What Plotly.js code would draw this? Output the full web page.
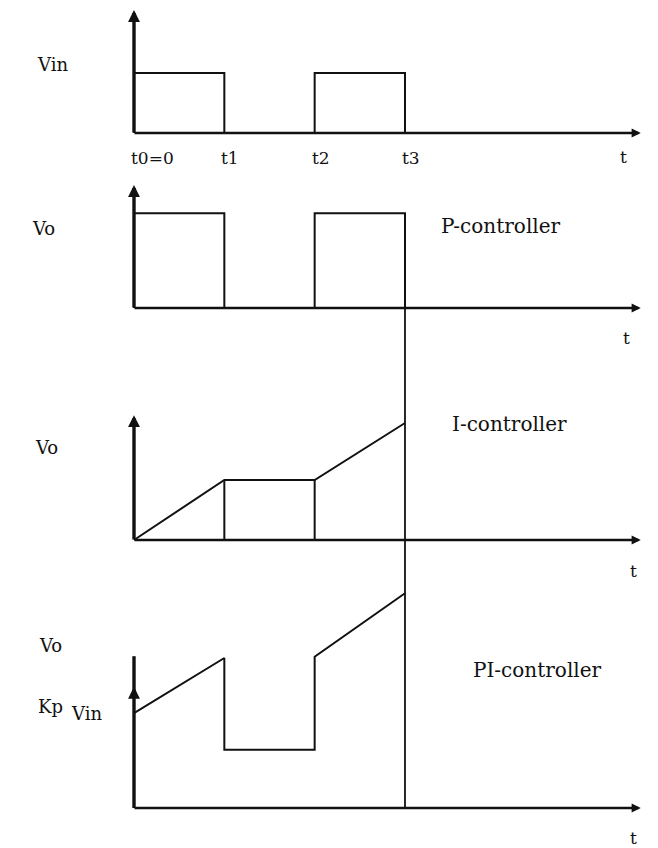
<!DOCTYPE html>
<html>
<head>
<meta charset="utf-8">
<script src="https://cdn.plot.ly/plotly-3.0.1.min.js"></script>
<style>html,body{margin:0;padding:0;background:#fff;}#chart{width:658px;height:848px;}</style>
</head>
<body>
<div id="chart"></div>
<script>
// ---- data (time in units of the pulse edges, voltage in arbitrary units) ----
const tEdges = [0, 1, 2, 3];
const tLabels = ['t0=0', 't1', 't2', 't3'];
const tEnd = 5.61;

const vinT = [0, 0, 1, 1, 2, 2, 3, 3];
const vinV = [0, 1, 1, 0, 0, 1, 1, 0];

const pT = [0, 0, 1, 1, 2, 2, 3, 3];
const pV = [0, 1.58, 1.58, 0, 0, 1.58, 1.58, 0];

const iT = [0, 1, 2, 3];
const iV = [0, 1, 1, 1.95];

const piT = [0, 1, 1, 2, 2, 3];
const piV = [1.58, 2.5, 0.97, 0.97, 2.52, 3.58];

const axisTops = [2.05, 2.05, 2.08, 2.53];
const piArrowAt = 2.02;

const panelNames = ['P-controller', 'I-controller', 'PI-controller'];

// ---- layout geometry ----
const W = 658, H = 848;
const x0px = 134, pxPerT = 90.33, pxPerV = 60;
// [top px, bottom px, baseline px]
const panels = [[0, 160, 133], [160, 345, 308], [345, 580, 540], [580, 848, 808]];

const layout = {
  width: W, height: H,
  margin: {l: 0, r: 0, t: 0, b: 0},
  paper_bgcolor: '#ffffff', plot_bgcolor: 'rgba(0,0,0,0)',
  showlegend: false,
  xaxis: {range: [-x0px / pxPerT, (W - x0px) / pxPerT], visible: false, fixedrange: true},
  annotations: [], shapes: []
};
const ranges = [];
panels.forEach((p, i) => {
  const key = i === 0 ? 'yaxis' : 'yaxis' + (i + 1);
  const r = [-(p[1] - p[2]) / pxPerV, (p[2] - p[0]) / pxPerV];
  ranges.push(r);
  layout[key] = {domain: [1 - p[1] / H, 1 - p[0] / H], range: r, visible: false, anchor: 'x', fixedrange: true};
});
const yn = i => i === 0 ? 'y' : 'y' + (i + 1);

const ink = '#111111';
const line = (x, y, ax, w) => ({x, y, xaxis: 'x', yaxis: ax, mode: 'lines',
  line: {color: ink, width: w || 2}, hoverinfo: 'skip', cliponaxis: false});

const traces = [
  line(vinT, vinV, 'y'),
  line(pT, pV, 'y2'),
  line(iT, iV, 'y3'),
  line([iT[1], iT[1], null, iT[2], iT[2]], [0, iV[1], null, 0, iV[2]], 'y3'),
  line(piT, piV, 'y4')
];

// axes with arrowheads
const arrow = (xh, yh, xt, yt, ax, w) => ({
  x: xh, y: yh, ax: xt, ay: yt, xref: 'x', yref: ax, axref: 'x', ayref: ax,
  text: '', showarrow: true, arrowhead: 2, arrowsize: 0.7, arrowwidth: w,
  arrowcolor: ink, standoff: 0, startstandoff: 0, borderpad: 0
});
for (let i = 0; i < 4; i++) {
  layout.annotations.push(arrow(tEnd, 0, 0, 0, yn(i), 2.6));
  if (i < 3) {
    layout.annotations.push(arrow(0, axisTops[i], 0, 0, yn(i), 3.4));
  }
}
// PI panel: y axis line extends above an arrowhead drawn mid-way
layout.shapes.push({type: 'line', xref: 'x', yref: 'y4', x0: 0, x1: 0, y0: 0, y1: axisTops[3],
  line: {color: ink, width: 3.4}});
layout.annotations.push(arrow(0, piArrowAt, 0, piArrowAt - 0.15, 'y4', 3.4));

// long t3 guide line through the output panels
const t3 = tEdges[3];
layout.shapes.push({type: 'line', xref: 'x', yref: 'y2', x0: t3, x1: t3, y0: pV[6], y1: ranges[1][0], line: {color: ink, width: 1.8}});
layout.shapes.push({type: 'line', xref: 'x', yref: 'y3 domain', x0: t3, x1: t3, y0: 0, y1: 1, line: {color: ink, width: 1.8}});
layout.shapes.push({type: 'line', xref: 'x', yref: 'y4', x0: t3, x1: t3, y0: 0, y1: ranges[3][1], line: {color: ink, width: 1.8}});

// text
const font = (s) => ({family: 'DejaVu Serif, Liberation Serif, serif', size: s, color: '#111111'});
const txt = (t, px, py, s) => ({text: t, xref: 'paper', yref: 'paper', x: px / W, y: 1 - py / H,
  xanchor: 'center', yanchor: 'middle', showarrow: false, font: font(s || 18)});

tEdges.forEach((t, i) => layout.annotations.push({
  text: tLabels[i], x: t, y: 0, xref: 'x', yref: 'y', xanchor: 'left', yanchor: 'middle',
  xshift: -5, yshift: -25, showarrow: false, font: font(17)
}));

layout.annotations.push(
  txt('Vin', 52, 65, 18),
  txt('Vo', 43, 228, 18),
  txt(panelNames[0], 501, 226, 20),
  txt('Vo', 46, 447, 18),
  txt(panelNames[1], 509, 424, 20),
  txt('Vo', 50, 645, 18),
  txt('Kp', 50, 706, 18),
  txt('Vin', 86, 713, 18),
  txt(panelNames[2], 537, 670, 20),
  txt('t', 623, 157, 17),
  txt('t', 626, 338, 17),
  txt('t', 633, 571, 17),
  txt('t', 633, 838, 17)
);

Plotly.newPlot('chart', traces, layout, {displayModeBar: false, staticPlot: true});
</script>
</body>
</html>
